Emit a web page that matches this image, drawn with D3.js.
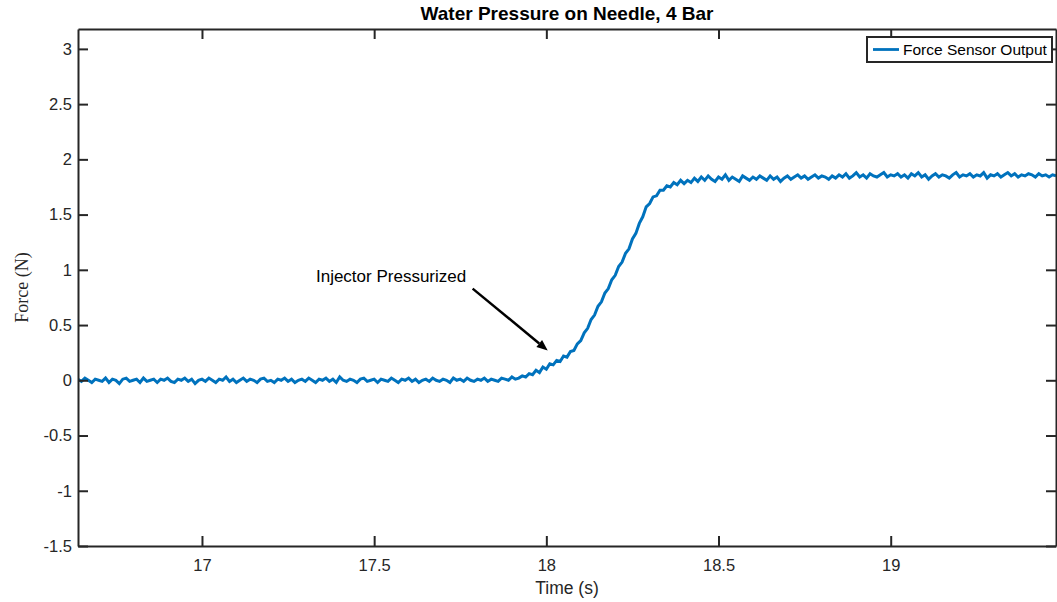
<!DOCTYPE html>
<html>
<head>
<meta charset="utf-8">
<script src="https://cdn.jsdelivr.net/npm/d3@7"></script>
<style>
  body { margin: 0; background: #fff; }
  svg { display: block; }
  text { font-family: "Liberation Sans", Arial, sans-serif; }
</style>
</head>
<body>
<div id="chart"></div>
<script>
// Chart text
const title = "Water Pressure on Needle, 4 Bar"
const xLabel = "Time (s)"
const yLabel = "Force (N)"
const seriesName = "Force Sensor Output"

// Axis ranges and ticks
const xDomain = [16.64, 19.48]
const yDomain = [-1.5, 3.18]
const xTicks = [17, 17.5, 18, 18.5, 19]
const yTicks = [-1.5, -1, -0.5, 0, 0.5, 1, 1.5, 2, 2.5, 3]

// Sensor samples, one every 10 ms starting at 16.64 s
const startTime = 16.64
const sampleStep = 0.01
const force = [
  // baseline
  0.01,-0.01,0.02,0.00,-0.02,0.01,0.00,-0.01,0.02,-0.02,
  0.01,0.00,-0.03,0.01,0.02,-0.01,0.00,0.01,-0.02,0.02,
  -0.01,0.00,0.01,-0.02,0.01,0.00,0.02,-0.01,-0.02,0.01,
  0.00,0.02,-0.01,0.01,-0.03,0.00,0.01,-0.01,0.02,0.00,
  -0.02,0.01,0.00,0.03,-0.01,0.01,-0.02,0.00,0.02,-0.01,
  0.01,0.00,-0.02,0.01,0.02,-0.01,0.00,-0.02,0.01,0.00,
  0.02,-0.01,0.01,-0.02,0.00,0.01,-0.01,0.02,0.00,-0.02,
  0.01,0.00,0.02,-0.01,0.01,-0.02,0.03,0.00,-0.01,0.01,
  0.00,-0.02,0.01,0.02,-0.01,0.00,0.01,-0.02,0.01,0.00,
  -0.01,0.02,0.00,-0.02,0.01,0.00,0.02,-0.01,0.01,-0.02,
  0.00,0.01,-0.01,0.02,0.00,-0.01,0.01,0.00,-0.02,0.02,
  0.00,0.01,-0.01,0.02,0.00,-0.01,0.01,0.00,0.02,-0.01,
  0.01,0.00,-0.01,0.02,0.01,0.00,0.03,0.01,0.02,
  // pressurising
  0.04,0.03,0.06,0.05,0.09,0.07,0.12,0.10,0.15,0.14,
  0.18,0.17,0.22,0.21,0.26,0.27,0.33,0.36,0.43,0.47,
  0.55,0.59,0.67,0.71,0.79,0.83,0.91,0.95,1.03,1.07,
  1.15,1.19,1.28,1.33,1.42,1.48,1.57,1.60,1.66,1.67,
  1.72,1.72,1.76,1.75,1.79,1.77,1.81,1.78,1.81,1.79,
  // plateau
  1.83,1.80,1.84,1.81,1.85,1.82,1.80,1.84,1.82,1.86,
  1.81,1.84,1.82,1.80,1.85,1.83,1.81,1.84,1.82,1.85,
  1.83,1.81,1.85,1.82,1.84,1.80,1.83,1.85,1.82,1.84,
  1.86,1.83,1.85,1.82,1.84,1.86,1.83,1.85,1.84,1.82,
  1.85,1.83,1.86,1.84,1.87,1.83,1.85,1.88,1.84,1.86,
  1.83,1.87,1.85,1.84,1.86,1.88,1.84,1.86,1.85,1.87,
  1.84,1.86,1.83,1.87,1.85,1.88,1.84,1.86,1.82,1.85,
  1.87,1.84,1.86,1.85,1.83,1.86,1.88,1.84,1.86,1.85,
  1.87,1.84,1.86,1.85,1.88,1.83,1.86,1.85,1.87,1.84,
  1.86,1.88,1.85,1.87,1.84,1.86,1.85,1.87,1.86,1.84,
  1.87,1.85,1.86,1.84,1.86,1.85
]

// Annotation text and arrow, in data units
const noteText = "Injector Pressurized"
const notePos = [17.331, 0.887]
const arrowFrom = [17.786, 0.83]
const arrowTo = [18.004, 0.27]

// Canvas
const width = 1057
const height = 602
const margin = { top: 29, right: 1, bottom: 56, left: 78 }
const axisColor = "#262626"
const lineColor = "#0072BD"

const svg = d3.select("#chart").append("svg").attr("width", width).attr("height", height)

const x = d3.scaleLinear().domain(xDomain).range([margin.left, width - margin.right])
const y = d3.scaleLinear().domain(yDomain).range([height - margin.bottom, margin.top])

const data = force.map((v, i) => ({ t: startTime + i * sampleStep, v }))

// Clip the trace to the axes box
svg.append("clipPath").attr("id", "plot-clip")
  .append("rect")
  .attr("x", x.range()[0]).attr("y", y.range()[1])
  .attr("width", x.range()[1] - x.range()[0])
  .attr("height", y.range()[0] - y.range()[1])

svg.append("path")
  .datum(data)
  .attr("clip-path", "url(#plot-clip)")
  .attr("fill", "none")
  .attr("stroke", lineColor)
  .attr("stroke-width", 3)
  .attr("stroke-linejoin", "miter")
  .attr("d", d3.line().x((d) => x(d.t)).y((d) => y(d.v)))

// Axes, ticks pointing inward on all four sides
const tickLen = 10
const plainNumber = (d) => String(d) // hyphen minus, like MATLAB
function styleAxis(g) {
  g.selectAll("path.domain").attr("stroke", axisColor).attr("stroke-width", 2)
  g.selectAll(".tick line").attr("stroke", axisColor).attr("stroke-width", 2)
  g.selectAll(".tick text").attr("fill", axisColor).style("font-size", "16.5px")
    .style("font-family", '"Liberation Sans", Arial, sans-serif')
}

svg.append("g")
  .attr("transform", `translate(0,${y.range()[0]})`)
  .call(d3.axisBottom(x).tickValues(xTicks).tickSizeInner(-tickLen).tickSizeOuter(0).tickPadding(13).tickFormat(plainNumber))
  .call(styleAxis)

svg.append("g")
  .attr("transform", `translate(0,${y.range()[1]})`)
  .call(d3.axisTop(x).tickValues(xTicks).tickSizeInner(-tickLen).tickSizeOuter(0).tickFormat(""))
  .call(styleAxis)

svg.append("g")
  .attr("transform", `translate(${x.range()[0]},0)`)
  .call(d3.axisLeft(y).tickValues(yTicks).tickSizeInner(-tickLen).tickSizeOuter(0).tickPadding(6).tickFormat(plainNumber))
  .call(styleAxis)

svg.append("g")
  .attr("transform", `translate(${x.range()[1]},0)`)
  .call(d3.axisRight(y).tickValues(yTicks).tickSizeInner(-tickLen).tickSizeOuter(0).tickFormat(""))
  .call(styleAxis)

// Title and axis labels
const xMid = (x.range()[0] + x.range()[1]) / 2
svg.append("text")
  .attr("x", xMid).attr("y", 20)
  .attr("text-anchor", "middle")
  .attr("fill", "#000")
  .style("font-size", "19px").style("font-weight", "bold")
  .text(title)

svg.append("text")
  .attr("x", xMid).attr("y", 594)
  .attr("text-anchor", "middle")
  .attr("fill", axisColor)
  .style("font-size", "17.5px")
  .text(xLabel)

svg.append("text")
  .attr("transform", `translate(28,${(y.range()[0] + y.range()[1]) / 2}) rotate(-90)`)
  .attr("text-anchor", "middle")
  .attr("fill", axisColor)
  .style("font-family", '"Liberation Serif", "Times New Roman", serif')
  .style("font-size", "18px")
  .text(yLabel)

// Annotation arrow
const ax1 = x(arrowFrom[0]), ay1 = y(arrowFrom[1])
const ax2 = x(arrowTo[0]), ay2 = y(arrowTo[1])
const ang = Math.atan2(ay2 - ay1, ax2 - ax1)
const headLen = 11, headHalf = 4.5
const bx = ax2 - headLen * Math.cos(ang), by = ay2 - headLen * Math.sin(ang)

svg.append("line")
  .attr("x1", ax1).attr("y1", ay1).attr("x2", bx).attr("y2", by)
  .attr("stroke", "#000").attr("stroke-width", 2.5)

svg.append("path")
  .attr("fill", "#000")
  .attr("d", `M${ax2},${ay2}L${bx - headHalf * Math.sin(ang)},${by + headHalf * Math.cos(ang)}L${bx + headHalf * Math.sin(ang)},${by - headHalf * Math.cos(ang)}Z`)

svg.append("text")
  .attr("x", x(notePos[0])).attr("y", y(notePos[1]))
  .attr("fill", "#000")
  .style("font-size", "17px")
  .text(noteText)

// Legend
const legend = svg.append("g").attr("transform", "translate(867,37)")
legend.append("rect")
  .attr("width", 185).attr("height", 25)
  .attr("fill", "#fff")
  .attr("stroke", axisColor).attr("stroke-width", 2)
legend.append("line")
  .attr("x1", 6).attr("x2", 32).attr("y1", 12.5).attr("y2", 12.5)
  .attr("stroke", lineColor).attr("stroke-width", 2.8)
legend.append("text")
  .attr("x", 36).attr("y", 18)
  .attr("fill", "#000")
  .style("font-size", "15.5px")
  .text(seriesName)
</script>
</body>
</html>
